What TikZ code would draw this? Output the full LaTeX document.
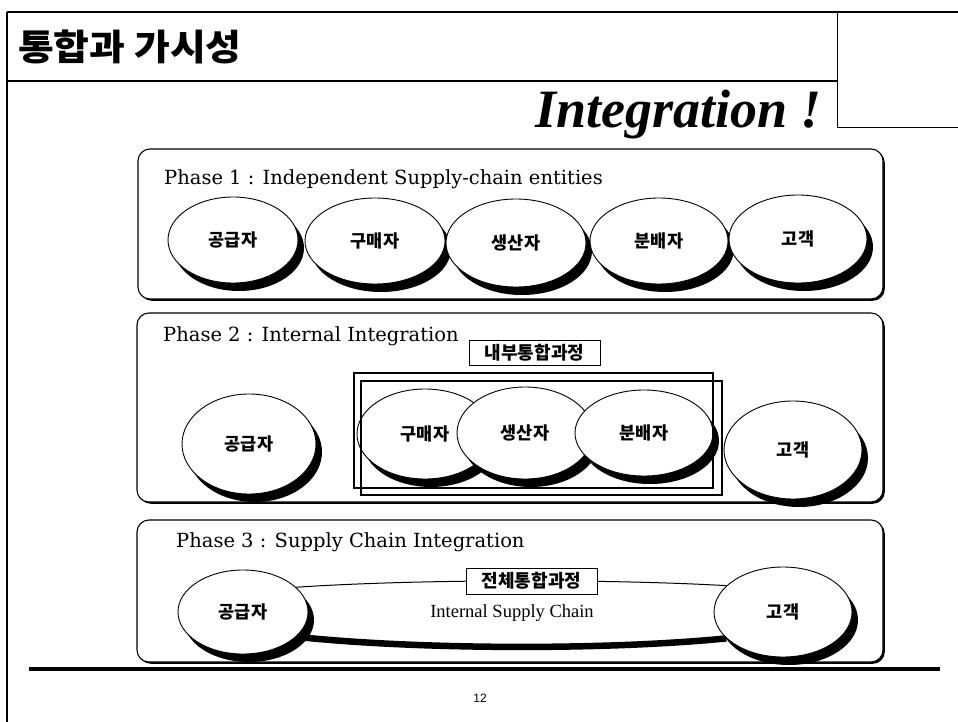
\documentclass[tikz,border=0pt]{standalone}
\usepackage{fontspec}
\usetikzlibrary{shapes.geometric,shadows}
\newfontfamily\kr{Noto Sans CJK KR}
\newfontfamily\phasefont{DejaVu Serif}
\newfontfamily\timesf{Liberation Serif}
\newfontfamily\arialf{Liberation Sans}
\pgfdeclarelayer{back}
\pgfdeclarelayer{mid}
\pgfsetlayers{back,mid,main}
\begin{document}
\begin{tikzpicture}[x=1pt,y=-1pt,
  phasebox/.style={draw, line width=1.1pt, rounded corners=12pt, fill=white,
    drop shadow={shadow xshift=1.8pt, shadow yshift=-1.8pt, fill=black, opacity=1}},
  ent/.style={ellipse, draw, line width=0.9pt, fill=white, inner sep=0pt,
    font=\kr\bfseries\fontsize{17.5}{17.5}\selectfont,
    drop shadow={shadow xshift=6pt, shadow yshift=-8pt, fill=black, opacity=1}},
  phasetxt/.style={anchor=base west, inner sep=0pt, font=\phasefont\fontsize{19.5}{19.5}\selectfont},
  lblbox/.style={draw, line width=0.8pt, fill=white, inner sep=0pt,
    font=\kr\bfseries\fontsize{18}{18}\selectfont}
]
\useasboundingbox (0,0) rectangle (958,722);
% page frame
\draw[line width=2.6pt] (7,12) -- (958,12);
\draw[line width=1.6pt] (7,12) -- (7,722);
\draw[line width=1.2pt] (7,81) -- (837,81);
\draw[line width=1pt] (837,12) -- (837,128) -- (958,128);
\draw[line width=4pt] (29,669) -- (940,669);
\node[anchor=west, inner sep=0pt, font=\kr\bfseries\fontsize{36}{36}\selectfont] (title) at (18,47) {\scalebox{1.08}[1]{통합과 가시성}};
\node[anchor=base east, inner sep=0pt, font=\timesf\bfseries\itshape\fontsize{54}{54}\selectfont] (integ) at (822,128) {Integration !};
\node[font=\arialf\fontsize{12}{12}\selectfont, inner sep=0pt] (pageno) at (480,698) {12};

% phase boxes
\begin{pgfonlayer}{back}
\node[phasebox, minimum width=745pt, minimum height=150pt] (p1) at (510.5,224) {};
\node[phasebox, minimum width=746pt, minimum height=189pt] (p2) at (510,407.5) {};
\node[phasebox, minimum width=746pt, minimum height=142pt] (p3) at (510,591) {};
\end{pgfonlayer}

\node[phasetxt] (t1) at (164,185) {Phase 1 : Independent Supply-chain entities};
\node[phasetxt] (t2) at (163,341) {Phase 2 : Internal Integration};
\node[phasetxt] (t3) at (176,547) {Phase 3 : Supply Chain Integration};

% phase 1
\node[ent, minimum width=130pt, minimum height=86pt] (a1) at (233,240) {공급자};
\node[ent, minimum width=140pt, minimum height=86pt] (b1) at (375,241) {구매자};
\node[ent, minimum width=140pt, minimum height=88pt] (c1) at (516,243) {생산자};
\node[ent, minimum width=138pt, minimum height=86pt] (d1) at (659,241) {분배자};
\node[ent, minimum width=138pt, minimum height=88pt] (e1) at (798,239) {고객};

% phase 2
\node[lblbox, minimum width=131pt, minimum height=25pt] (l2) at (534.5,353) {내부통합과정};
\node[ent, minimum width=134pt, minimum height=100pt] (a2) at (249,444) {공급자};
\node[ent, minimum width=136pt, minimum height=90pt] (b2) at (425,434) {구매자};
\node[ent, minimum width=136pt, minimum height=92pt] (c2) at (525,433) {생산자};
\node[ent, minimum width=138pt, minimum height=86pt] (d2) at (644,433) {분배자};
\node[ent, minimum width=138pt, minimum height=98pt] (e2) at (793,450) {고객};
\draw[line width=2.5pt] (354,373) rectangle (713,488);
\draw[line width=2.5pt] (361,381) rectangle (722,495);

% phase 3
\node[ent, minimum width=130pt, minimum height=84pt] (a3) at (243,612) {공급자};
\node[ent, minimum width=138pt, minimum height=90pt] (e3) at (783,612) {고객};
\begin{pgfonlayer}{mid}
\draw[line width=1pt] (a3.25) .. controls (420,579) and (610,579) .. (e3.155);
\draw[line width=6.5pt] (a3.335) .. controls (420,650) and (610,650) .. (e3.205);
\end{pgfonlayer}
\node[lblbox, minimum width=131pt, minimum height=26pt] (l3) at (531.5,581) {전체통합과정};
\node[font=\timesf\fontsize{18.5}{18.5}\selectfont, inner sep=0pt] (isc) at (512,613) {Internal Supply Chain};
\end{tikzpicture}
\end{document}
